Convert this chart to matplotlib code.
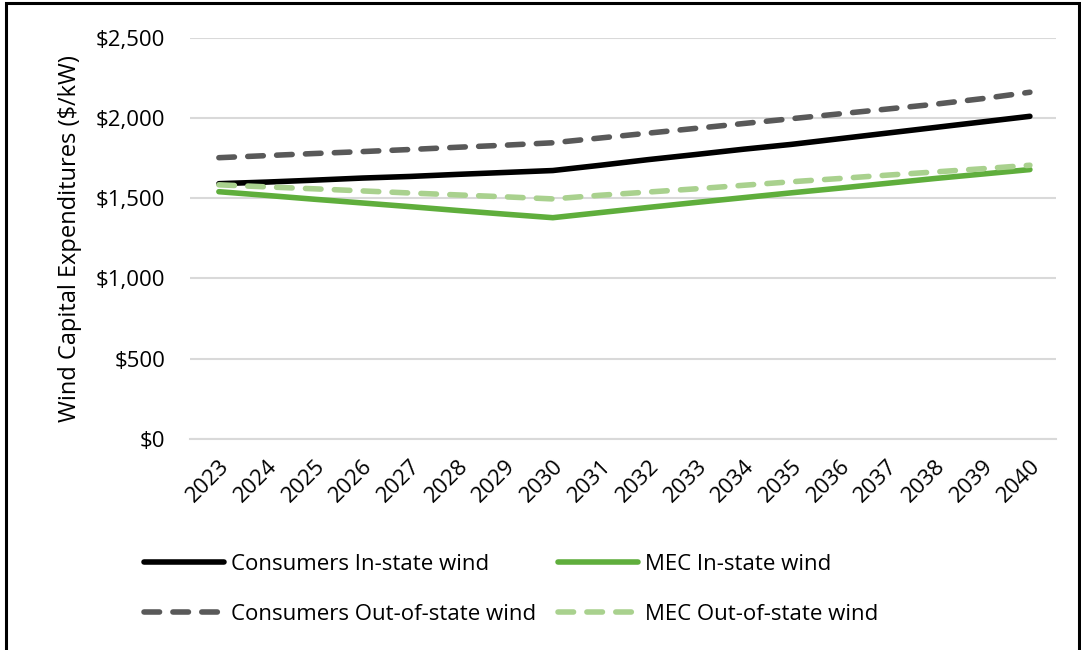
import numpy as np
import matplotlib.pyplot as plt
from matplotlib.patches import Rectangle

plt.rcParams['font.family'] = ['Open Sans', 'DejaVu Sans']

years = list(range(2023, 2041))
consumers_in = [1590, 1600, 1612, 1625, 1635, 1648, 1660, 1672, 1705, 1740,
                1772, 1805, 1835, 1870, 1905, 1940, 1975, 2010]
consumers_out = [1752, 1765, 1778, 1790, 1803, 1817, 1830, 1845, 1875, 1905,
                 1935, 1965, 1995, 2025, 2055, 2085, 2120, 2160]
mec_in = [1540, 1517, 1493, 1470, 1447, 1423, 1400, 1378, 1410, 1442,
          1473, 1503, 1533, 1562, 1592, 1622, 1650, 1678]
mec_out = [1583, 1570, 1558, 1545, 1532, 1520, 1508, 1495, 1518, 1538,
           1558, 1580, 1602, 1622, 1643, 1663, 1683, 1705]
yticks = [0, 500, 1000, 1500, 2000, 2500]

fig = plt.figure(figsize=(10.81, 6.5), dpi=100)
ax = fig.add_axes([0.176, 0.325, 0.801, 0.617])

dash = (0, (2.8, 2.4))
x = np.arange(len(years))
ax.plot(x, consumers_in, color='black', lw=4, solid_capstyle='round',
        label='Consumers In-state wind')
ax.plot(x, mec_in, color='#5fae3c', lw=4, solid_capstyle='round',
        label='MEC In-state wind')
ax.plot(x, consumers_out, color='#595959', lw=4, ls=dash,
        dash_capstyle='round', label='Consumers Out-of-state wind')
ax.plot(x, mec_out, color='#a9d18e', lw=4, ls=dash,
        dash_capstyle='round', label='MEC Out-of-state wind')

ax.set_xlim(-0.6, len(years) - 0.45)
ax.set_ylim(0, 2500)
ax.set_yticks(yticks)
ax.set_yticklabels(['${:,}'.format(v) for v in yticks], fontsize=16)
ax.set_xticks(x)
ax.set_xticklabels([str(y) for y in years], rotation=45, ha='right',
                   rotation_mode='anchor', fontsize=16)
ax.grid(axis='y', color='#d9d9d9', lw=1.5)
ax.set_axisbelow(True)
for s in ['top', 'right', 'left']:
    ax.spines[s].set_visible(False)
ax.spines['bottom'].set_color('#d9d9d9')
ax.spines['bottom'].set_linewidth(1.5)
ax.tick_params(axis='y', length=0, pad=18)
ax.tick_params(axis='x', length=0, pad=12)
ax.set_ylabel('Wind Capital Expenditures ($/kW)', fontsize=17, labelpad=10)

h, l = ax.get_legend_handles_labels()
order = [0, 2, 1, 3]
fig.legend([h[i] for i in order], [l[i] for i in order], ncol=2,
           loc='lower left', bbox_to_anchor=(0.115, 0.008), frameon=False,
           fontsize=16, handlelength=3.6, handletextpad=0.3,
           columnspacing=1.0, labelspacing=1.3)

fig.patches.append(Rectangle((0.006, -0.05), 0.992, 1.045,
                             transform=fig.transFigure, fill=False,
                             edgecolor='black', lw=2.2))

fig.savefig('out.png', dpi=100)
